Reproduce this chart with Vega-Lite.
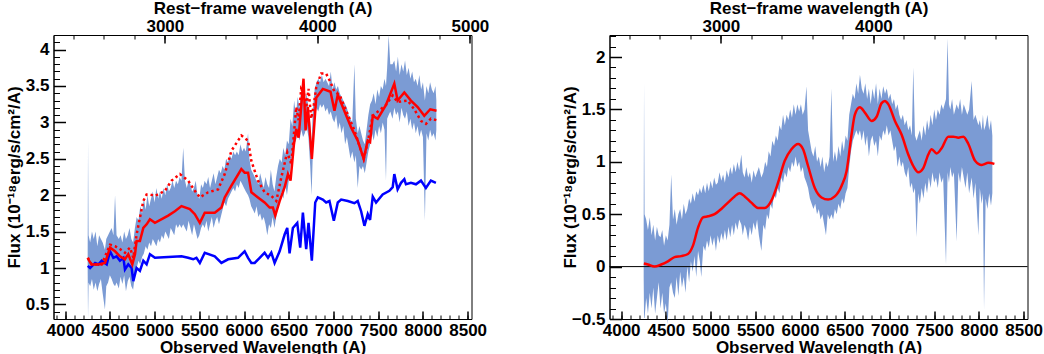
{
"$schema": "https://vega.github.io/schema/vega-lite/v6.json",
"autosize": {"type": "pad"},
"padding": {"left": 3.5, "top": -2, "right": 0, "bottom": 0},
"background": "white",
"bounds": "flush",
"spacing": 138,
"config": {
  "view": {"stroke": "black", "strokeWidth": 1},
  "axis": {"labelFont": "Liberation Sans", "labelFontSize": 17, "labelFontWeight": "bold", "labelColor": "black",
           "titleFont": "Liberation Sans", "titleFontSize": 17, "titleFontWeight": "bold", "titleColor": "black",
           "tickColor": "black", "domainColor": "black", "grid": false, "labelFlush": false, "labelOverlap": false}
},
"datasets": {
"specL": [
{"w":4252,"lo":0.95,"hi":1.25},{"w":4256,"lo":0.30,"hi":2.75},{"w":4262,"lo":0.80,"hi":1.45},{"w":4280,"lo":0.75,"hi":1.35},{"w":4300,"lo":0.85,"hi":1.50},{"w":4320,"lo":0.70,"hi":1.40},{"w":4340,"lo":0.80,"hi":1.50},{"w":4360,"lo":0.68,"hi":1.30},{"w":4380,"lo":0.78,"hi":1.45},{"w":4400,"lo":0.85,"hi":1.40},{"w":4420,"lo":0.65,"hi":1.35},{"w":4445,"lo":0.43,"hi":1.25},{"w":4460,"lo":0.75,"hi":1.40},{"w":4480,"lo":0.80,"hi":1.45},{"w":4500,"lo":0.90,"hi":1.50},{"w":4520,"lo":0.85,"hi":1.55},{"w":4540,"lo":0.78,"hi":1.45},{"w":4558,"lo":0.75,"hi":2.00},{"w":4575,"lo":0.80,"hi":1.45},{"w":4600,"lo":0.72,"hi":1.40},{"w":4620,"lo":0.88,"hi":1.45},{"w":4640,"lo":0.78,"hi":1.35},{"w":4660,"lo":0.90,"hi":1.50},{"w":4680,"lo":0.68,"hi":1.40},{"w":4700,"lo":0.82,"hi":1.45},{"w":4720,"lo":0.88,"hi":1.55},{"w":4740,"lo":0.75,"hi":1.40},{"w":4760,"lo":0.70,"hi":1.35},{"w":4780,"lo":0.90,"hi":1.55},{"w":4800,"lo":1.00,"hi":1.70},{"w":4820,"lo":1.10,"hi":1.65},{"w":4840,"lo":1.05,"hi":1.85},{"w":4860,"lo":1.15,"hi":1.75},{"w":4880,"lo":1.20,"hi":1.95},{"w":4900,"lo":1.30,"hi":1.80},{"w":4920,"lo":1.25,"hi":2.00},{"w":4940,"lo":1.35,"hi":1.85},{"w":4960,"lo":1.30,"hi":1.95},{"w":4980,"lo":1.40,"hi":2.05},{"w":5000,"lo":1.35,"hi":1.90},{"w":5020,"lo":1.30,"hi":2.10},{"w":5040,"lo":1.40,"hi":1.95},{"w":5060,"lo":1.35,"hi":2.05},{"w":5080,"lo":1.45,"hi":1.95},{"w":5100,"lo":1.40,"hi":2.10},{"w":5120,"lo":1.50,"hi":2.00},{"w":5140,"lo":1.45,"hi":2.15},{"w":5160,"lo":1.40,"hi":2.05},{"w":5180,"lo":1.55,"hi":2.10},{"w":5200,"lo":1.50,"hi":2.20},{"w":5220,"lo":1.45,"hi":2.10},{"w":5240,"lo":1.60,"hi":2.20},{"w":5260,"lo":1.55,"hi":2.15},{"w":5280,"lo":1.60,"hi":2.25},{"w":5300,"lo":1.55,"hi":2.20},{"w":5320,"lo":1.60,"hi":2.65},{"w":5340,"lo":1.55,"hi":2.20},{"w":5360,"lo":1.50,"hi":2.10},{"w":5380,"lo":1.65,"hi":2.20},{"w":5400,"lo":1.55,"hi":2.15},{"w":5420,"lo":1.45,"hi":2.05},{"w":5440,"lo":1.60,"hi":2.10},{"w":5460,"lo":1.50,"hi":2.20},{"w":5480,"lo":1.40,"hi":2.00},{"w":5500,"lo":1.45,"hi":1.95},{"w":5520,"lo":1.55,"hi":2.15},{"w":5540,"lo":1.60,"hi":2.10},{"w":5560,"lo":1.55,"hi":2.20},{"w":5580,"lo":1.65,"hi":2.15},{"w":5600,"lo":1.50,"hi":2.25},{"w":5620,"lo":1.60,"hi":2.10},{"w":5640,"lo":1.70,"hi":2.20},{"w":5660,"lo":1.55,"hi":2.30},{"w":5680,"lo":1.65,"hi":2.15},{"w":5700,"lo":1.70,"hi":2.25},{"w":5720,"lo":1.60,"hi":2.35},{"w":5740,"lo":1.70,"hi":2.30},{"w":5760,"lo":1.80,"hi":2.40},{"w":5780,"lo":1.90,"hi":2.35},{"w":5800,"lo":1.85,"hi":2.50},{"w":5820,"lo":1.95,"hi":2.45},{"w":5840,"lo":2.00,"hi":2.55},{"w":5860,"lo":2.05,"hi":2.50},{"w":5880,"lo":2.10,"hi":2.60},{"w":5900,"lo":2.05,"hi":2.55},{"w":5920,"lo":2.15,"hi":2.60},{"w":5940,"lo":2.10,"hi":2.55},{"w":5960,"lo":2.20,"hi":2.70},{"w":5980,"lo":2.15,"hi":2.60},{"w":6000,"lo":2.10,"hi":2.65},{"w":6020,"lo":2.05,"hi":2.60},{"w":6045,"lo":2.00,"hi":2.85},{"w":6060,"lo":1.95,"hi":2.50},{"w":6080,"lo":1.85,"hi":2.35},{"w":6100,"lo":1.80,"hi":2.30},{"w":6120,"lo":1.75,"hi":2.25},{"w":6140,"lo":1.85,"hi":2.20},{"w":6160,"lo":1.70,"hi":2.15},{"w":6180,"lo":1.75,"hi":2.30},{"w":6200,"lo":1.65,"hi":2.20},{"w":6220,"lo":1.70,"hi":2.10},{"w":6240,"lo":1.60,"hi":2.25},{"w":6260,"lo":1.45,"hi":2.15},{"w":6280,"lo":1.60,"hi":2.10},{"w":6300,"lo":1.55,"hi":2.35},{"w":6320,"lo":1.70,"hi":2.15},{"w":6340,"lo":1.55,"hi":2.05},{"w":6360,"lo":1.70,"hi":2.25},{"w":6380,"lo":1.85,"hi":2.40},{"w":6400,"lo":1.95,"hi":2.50},{"w":6420,"lo":2.05,"hi":2.45},{"w":6440,"lo":1.95,"hi":2.65},{"w":6460,"lo":2.15,"hi":2.55},{"w":6480,"lo":2.00,"hi":2.75},{"w":6500,"lo":2.20,"hi":2.70},{"w":6520,"lo":2.40,"hi":3.05},{"w":6540,"lo":2.60,"hi":2.95},{"w":6560,"lo":2.70,"hi":3.30},{"w":6580,"lo":2.75,"hi":3.10},{"w":6600,"lo":2.85,"hi":3.35},{"w":6620,"lo":2.75,"hi":3.20},{"w":6640,"lo":2.90,"hi":3.45},{"w":6660,"lo":2.80,"hi":3.30},{"w":6680,"lo":2.85,"hi":3.25},{"w":6700,"lo":2.95,"hi":3.40},{"w":6720,"lo":2.80,"hi":3.20},{"w":6740,"lo":2.40,"hi":3.00},{"w":6755,"lo":2.00,"hi":2.70},{"w":6770,"lo":2.60,"hi":3.20},{"w":6790,"lo":3.00,"hi":3.45},{"w":6810,"lo":3.20,"hi":3.55},{"w":6830,"lo":3.15,"hi":3.60},{"w":6850,"lo":3.25,"hi":3.55},{"w":6870,"lo":3.20,"hi":3.65},{"w":6890,"lo":3.25,"hi":3.55},{"w":6910,"lo":3.15,"hi":3.60},{"w":6930,"lo":3.20,"hi":3.55},{"w":6950,"lo":3.10,"hi":3.50},{"w":6970,"lo":3.15,"hi":3.70},{"w":6990,"lo":3.05,"hi":3.45},{"w":7010,"lo":3.00,"hi":3.55},{"w":7030,"lo":3.10,"hi":3.45},{"w":7050,"lo":2.90,"hi":3.50},{"w":7070,"lo":3.00,"hi":3.40},{"w":7090,"lo":2.85,"hi":3.35},{"w":7110,"lo":2.95,"hi":3.30},{"w":7130,"lo":2.70,"hi":3.25},{"w":7150,"lo":2.80,"hi":3.20},{"w":7170,"lo":2.65,"hi":3.10},{"w":7190,"lo":2.50,"hi":3.05},{"w":7210,"lo":2.60,"hi":3.00},{"w":7234,"lo":2.45,"hi":3.80},{"w":7250,"lo":2.55,"hi":3.05},{"w":7271,"lo":2.10,"hi":2.85},{"w":7290,"lo":2.40,"hi":2.95},{"w":7310,"lo":2.35,"hi":2.85},{"w":7330,"lo":2.40,"hi":2.75},{"w":7350,"lo":2.30,"hi":2.70},{"w":7370,"lo":2.45,"hi":2.90},{"w":7390,"lo":2.60,"hi":3.10},{"w":7410,"lo":2.70,"hi":3.25},{"w":7430,"lo":2.85,"hi":3.30},{"w":7450,"lo":2.75,"hi":3.40},{"w":7470,"lo":2.90,"hi":3.25},{"w":7490,"lo":2.80,"hi":3.45},{"w":7510,"lo":2.95,"hi":3.35},{"w":7530,"lo":2.85,"hi":3.50},{"w":7550,"lo":3.00,"hi":3.45},{"w":7570,"lo":2.90,"hi":3.60},{"w":7587,"lo":2.20,"hi":3.50},{"w":7600,"lo":3.05,"hi":3.75},{"w":7617,"lo":3.10,"hi":4.20},{"w":7635,"lo":3.15,"hi":3.80},{"w":7660,"lo":3.05,"hi":3.80},{"w":7680,"lo":3.20,"hi":3.85},{"w":7700,"lo":3.10,"hi":3.70},{"w":7720,"lo":3.15,"hi":3.90},{"w":7740,"lo":3.00,"hi":3.65},{"w":7760,"lo":3.20,"hi":3.80},{"w":7780,"lo":3.10,"hi":3.70},{"w":7800,"lo":3.05,"hi":3.85},{"w":7820,"lo":3.15,"hi":3.65},{"w":7840,"lo":2.95,"hi":3.75},{"w":7860,"lo":3.05,"hi":3.60},{"w":7880,"lo":2.90,"hi":3.70},{"w":7900,"lo":3.00,"hi":3.55},{"w":7920,"lo":2.85,"hi":3.60},{"w":7940,"lo":2.95,"hi":3.50},{"w":7960,"lo":2.80,"hi":3.65},{"w":7980,"lo":2.90,"hi":3.45},{"w":8000,"lo":2.80,"hi":3.55},{"w":8022,"lo":1.65,"hi":3.30},{"w":8040,"lo":2.85,"hi":3.50},{"w":8060,"lo":2.75,"hi":3.40},{"w":8080,"lo":2.90,"hi":3.55},{"w":8100,"lo":2.80,"hi":3.45},{"w":8120,"lo":2.85,"hi":3.40},{"w":8140,"lo":2.75,"hi":3.50},{"w":8150,"lo":2.90,"hi":3.30}
],
"blueL": [
{"w":4253,"f":1.03},{"w":4279,"f":1.00},{"w":4335,"f":1.07},{"w":4372,"f":1.05},{"w":4409,"f":1.10},{"w":4465,"f":1.05},{"w":4502,"f":1.23},{"w":4539,"f":1.14},{"w":4576,"f":1.16},{"w":4613,"f":1.10},{"w":4651,"f":1.14},{"w":4669,"f":0.98},{"w":4706,"f":1.05},{"w":4743,"f":1.00},{"w":4762,"f":0.82},{"w":4799,"f":1.00},{"w":4836,"f":0.96},{"w":4874,"f":1.10},{"w":4911,"f":1.05},{"w":4948,"f":1.19},{"w":5004,"f":1.14},{"w":5152,"f":1.15},{"w":5301,"f":1.16},{"w":5375,"f":1.14},{"w":5431,"f":1.12},{"w":5468,"f":1.14},{"w":5506,"f":1.07},{"w":5561,"f":1.21},{"w":5673,"f":1.16},{"w":5747,"f":1.07},{"w":5822,"f":1.12},{"w":5933,"f":1.14},{"w":6007,"f":1.23},{"w":6045,"f":1.14},{"w":6082,"f":1.07},{"w":6119,"f":1.07},{"w":6175,"f":1.14},{"w":6230,"f":1.21},{"w":6268,"f":1.14},{"w":6305,"f":1.21},{"w":6342,"f":1.07},{"w":6398,"f":1.23},{"w":6454,"f":1.46},{"w":6483,"f":1.55},{"w":6509,"f":1.20},{"w":6546,"f":1.55},{"w":6595,"f":1.62},{"w":6628,"f":1.28},{"w":6658,"f":1.76},{"w":6695,"f":1.26},{"w":6721,"f":1.62},{"w":6758,"f":1.10},{"w":6796,"f":1.90},{"w":6825,"f":1.97},{"w":6881,"f":1.94},{"w":6918,"f":1.90},{"w":6955,"f":1.92},{"w":7004,"f":1.65},{"w":7048,"f":1.90},{"w":7086,"f":1.94},{"w":7160,"f":1.92},{"w":7234,"f":1.89},{"w":7271,"f":1.92},{"w":7309,"f":1.78},{"w":7346,"f":1.58},{"w":7383,"f":1.74},{"w":7409,"f":1.66},{"w":7439,"f":1.98},{"w":7476,"f":1.90},{"w":7550,"f":2.01},{"w":7625,"f":2.06},{"w":7662,"f":2.11},{"w":7680,"f":2.29},{"w":7717,"f":2.08},{"w":7755,"f":2.17},{"w":7792,"f":2.22},{"w":7810,"f":2.15},{"w":7866,"f":2.17},{"w":7922,"f":2.15},{"w":7978,"f":2.20},{"w":8033,"f":2.10},{"w":8089,"f":2.20},{"w":8145,"f":2.17}
],
"redL": [
{"w":4253,"f":1.14},{"w":4268,"f":1.10},{"w":4297,"f":1.05},{"w":4372,"f":1.05},{"w":4446,"f":1.07},{"w":4502,"f":1.28},{"w":4558,"f":1.23},{"w":4613,"f":1.16},{"w":4669,"f":1.12},{"w":4706,"f":1.19},{"w":4751,"f":1.05},{"w":4781,"f":1.19},{"w":4799,"f":1.37},{"w":4836,"f":1.37},{"w":4874,"f":1.55},{"w":4911,"f":1.60},{"w":4948,"f":1.67},{"w":5004,"f":1.62},{"w":5152,"f":1.72},{"w":5227,"f":1.78},{"w":5301,"f":1.85},{"w":5394,"f":1.81},{"w":5450,"f":1.74},{"w":5506,"f":1.62},{"w":5561,"f":1.76},{"w":5673,"f":1.76},{"w":5747,"f":1.83},{"w":5784,"f":1.97},{"w":5859,"f":2.13},{"w":5970,"f":2.36},{"w":6007,"f":2.31},{"w":6045,"f":2.31},{"w":6082,"f":2.04},{"w":6156,"f":1.97},{"w":6230,"f":1.90},{"w":6286,"f":1.83},{"w":6323,"f":1.83},{"w":6349,"f":1.72},{"w":6398,"f":1.92},{"w":6454,"f":2.11},{"w":6491,"f":2.29},{"w":6520,"f":2.20},{"w":6558,"f":2.70},{"w":6584,"f":2.91},{"w":6610,"f":2.79},{"w":6632,"f":3.11},{"w":6665,"f":3.60},{"w":6688,"f":2.89},{"w":6714,"f":3.21},{"w":6758,"f":2.50},{"w":6807,"f":3.34},{"w":6881,"f":3.46},{"w":6967,"f":3.42},{"w":7011,"f":3.16},{"w":7048,"f":3.38},{"w":7197,"f":2.93},{"w":7271,"f":2.75},{"w":7338,"f":2.50},{"w":7383,"f":2.75},{"w":7409,"f":2.73},{"w":7439,"f":3.09},{"w":7494,"f":3.05},{"w":7587,"f":3.24},{"w":7680,"f":3.53},{"w":7717,"f":3.30},{"w":7792,"f":3.41},{"w":7866,"f":3.30},{"w":7941,"f":3.21},{"w":8015,"f":3.09},{"w":8082,"f":3.18},{"w":8152,"f":3.16}
],
"dotL": [
{"w":4253,"f":1.14},{"w":4297,"f":1.05},{"w":4409,"f":1.05},{"w":4502,"f":1.32},{"w":4558,"f":1.30},{"w":4613,"f":1.26},{"w":4669,"f":1.21},{"w":4725,"f":1.28},{"w":4762,"f":1.14},{"w":4799,"f":1.46},{"w":4836,"f":1.69},{"w":4874,"f":1.92},{"w":4911,"f":2.01},{"w":4948,"f":2.01},{"w":5004,"f":1.99},{"w":5115,"f":2.06},{"w":5190,"f":2.20},{"w":5283,"f":2.29},{"w":5375,"f":2.20},{"w":5450,"f":2.06},{"w":5506,"f":1.97},{"w":5599,"f":2.04},{"w":5710,"f":2.08},{"w":5784,"f":2.29},{"w":5859,"f":2.61},{"w":5970,"f":2.82},{"w":6045,"f":2.75},{"w":6082,"f":2.47},{"w":6156,"f":2.20},{"w":6230,"f":2.04},{"w":6305,"f":1.99},{"w":6361,"f":1.92},{"w":6416,"f":2.24},{"w":6483,"f":2.59},{"w":6528,"f":2.43},{"w":6558,"f":2.84},{"w":6584,"f":3.21},{"w":6610,"f":3.03},{"w":6639,"f":3.46},{"w":6669,"f":3.40},{"w":6695,"f":3.20},{"w":6721,"f":3.46},{"w":6751,"f":3.05},{"w":6781,"f":3.25},{"w":6807,"f":3.48},{"w":6862,"f":3.67},{"w":6918,"f":3.67},{"w":6967,"f":3.55},{"w":7011,"f":3.42},{"w":7067,"f":3.38},{"w":7160,"f":3.11},{"w":7234,"f":2.89},{"w":7338,"f":2.50},{"w":7383,"f":2.73},{"w":7439,"f":3.09},{"w":7587,"f":3.24},{"w":7662,"f":3.37},{"w":7717,"f":3.28},{"w":7829,"f":3.30},{"w":7903,"f":3.18},{"w":7978,"f":3.02},{"w":8033,"f":2.98},{"w":8089,"f":3.05},{"w":8152,"f":3.03}
],
"specR": [
{"w":4252,"lo":-0.10,"hi":0.40},{"w":4256,"lo":-0.49,"hi":1.75},{"w":4262,"lo":-0.49,"hi":0.50},{"w":4280,"lo":-0.30,"hi":0.45},{"w":4300,"lo":-0.45,"hi":0.35},{"w":4320,"lo":-0.25,"hi":0.47},{"w":4340,"lo":-0.40,"hi":0.30},{"w":4360,"lo":-0.20,"hi":0.40},{"w":4380,"lo":-0.45,"hi":0.25},{"w":4400,"lo":-0.30,"hi":0.38},{"w":4420,"lo":-0.15,"hi":0.30},{"w":4440,"lo":-0.40,"hi":0.28},{"w":4460,"lo":-0.25,"hi":0.35},{"w":4480,"lo":-0.45,"hi":0.20},{"w":4500,"lo":-0.35,"hi":0.30},{"w":4520,"lo":-0.55,"hi":0.25},{"w":4540,"lo":-0.20,"hi":0.40},{"w":4560,"lo":-0.15,"hi":0.88},{"w":4580,"lo":-0.25,"hi":0.45},{"w":4600,"lo":-0.30,"hi":0.55},{"w":4620,"lo":-0.10,"hi":0.40},{"w":4640,"lo":-0.28,"hi":0.50},{"w":4660,"lo":-0.05,"hi":0.55},{"w":4680,"lo":-0.20,"hi":0.45},{"w":4700,"lo":-0.10,"hi":0.60},{"w":4720,"lo":-0.25,"hi":0.50},{"w":4740,"lo":0.00,"hi":0.55},{"w":4760,"lo":-0.15,"hi":0.65},{"w":4780,"lo":0.05,"hi":0.60},{"w":4800,"lo":-0.05,"hi":0.70},{"w":4820,"lo":0.10,"hi":0.62},{"w":4840,"lo":-0.10,"hi":0.72},{"w":4860,"lo":0.15,"hi":0.68},{"w":4880,"lo":0.05,"hi":0.75},{"w":4896,"lo":-0.10,"hi":0.70},{"w":4920,"lo":0.20,"hi":0.78},{"w":4940,"lo":0.15,"hi":0.70},{"w":4960,"lo":0.25,"hi":0.80},{"w":4980,"lo":0.18,"hi":0.72},{"w":5000,"lo":0.30,"hi":0.82},{"w":5020,"lo":0.20,"hi":0.75},{"w":5040,"lo":0.28,"hi":0.85},{"w":5060,"lo":0.15,"hi":0.78},{"w":5080,"lo":0.30,"hi":0.80},{"w":5100,"lo":0.22,"hi":0.90},{"w":5120,"lo":0.32,"hi":0.82},{"w":5140,"lo":0.25,"hi":0.88},{"w":5160,"lo":0.35,"hi":0.80},{"w":5180,"lo":0.25,"hi":0.92},{"w":5200,"lo":0.38,"hi":0.85},{"w":5220,"lo":0.28,"hi":0.95},{"w":5240,"lo":0.40,"hi":0.88},{"w":5260,"lo":0.30,"hi":0.98},{"w":5280,"lo":0.42,"hi":0.90},{"w":5300,"lo":0.35,"hi":1.00},{"w":5320,"lo":0.45,"hi":0.92},{"w":5344,"lo":0.40,"hi":1.07},{"w":5360,"lo":0.30,"hi":0.90},{"w":5380,"lo":0.40,"hi":0.85},{"w":5400,"lo":0.35,"hi":0.95},{"w":5420,"lo":0.25,"hi":0.85},{"w":5440,"lo":0.38,"hi":0.90},{"w":5460,"lo":0.30,"hi":0.80},{"w":5480,"lo":0.42,"hi":0.92},{"w":5500,"lo":0.35,"hi":0.85},{"w":5520,"lo":0.45,"hi":0.90},{"w":5540,"lo":0.30,"hi":0.95},{"w":5568,"lo":0.15,"hi":0.85},{"w":5590,"lo":0.40,"hi":0.90},{"w":5610,"lo":0.35,"hi":1.00},{"w":5630,"lo":0.50,"hi":0.95},{"w":5650,"lo":0.45,"hi":1.10},{"w":5670,"lo":0.60,"hi":1.05},{"w":5690,"lo":0.55,"hi":1.20},{"w":5710,"lo":0.70,"hi":1.15},{"w":5730,"lo":0.65,"hi":1.25},{"w":5750,"lo":0.75,"hi":1.20},{"w":5770,"lo":0.70,"hi":1.35},{"w":5790,"lo":0.85,"hi":1.30},{"w":5810,"lo":0.80,"hi":1.45},{"w":5830,"lo":0.90,"hi":1.35},{"w":5850,"lo":0.85,"hi":1.45},{"w":5870,"lo":0.95,"hi":1.40},{"w":5890,"lo":0.90,"hi":1.50},{"w":5910,"lo":1.00,"hi":1.42},{"w":5930,"lo":0.95,"hi":1.55},{"w":5950,"lo":1.05,"hi":1.45},{"w":5970,"lo":0.95,"hi":1.55},{"w":5990,"lo":1.00,"hi":1.48},{"w":6010,"lo":0.90,"hi":1.55},{"w":6030,"lo":0.95,"hi":1.45},{"w":6050,"lo":0.85,"hi":1.50},{"w":6072,"lo":0.80,"hi":1.72},{"w":6090,"lo":0.75,"hi":1.30},{"w":6110,"lo":0.65,"hi":1.20},{"w":6130,"lo":0.60,"hi":1.10},{"w":6150,"lo":0.55,"hi":1.05},{"w":6170,"lo":0.60,"hi":1.15},{"w":6190,"lo":0.50,"hi":1.00},{"w":6210,"lo":0.55,"hi":1.05},{"w":6230,"lo":0.45,"hi":0.95},{"w":6250,"lo":0.50,"hi":1.05},{"w":6270,"lo":0.40,"hi":0.90},{"w":6290,"lo":0.30,"hi":1.00},{"w":6310,"lo":0.50,"hi":0.95},{"w":6330,"lo":0.45,"hi":1.05},{"w":6351,"lo":0.50,"hi":1.70},{"w":6370,"lo":0.45,"hi":1.00},{"w":6390,"lo":0.55,"hi":1.10},{"w":6410,"lo":0.50,"hi":1.00},{"w":6430,"lo":0.60,"hi":1.15},{"w":6450,"lo":0.55,"hi":1.05},{"w":6470,"lo":0.65,"hi":1.20},{"w":6490,"lo":0.60,"hi":1.10},{"w":6510,"lo":0.70,"hi":1.25},{"w":6530,"lo":0.75,"hi":1.20},{"w":6550,"lo":0.95,"hi":1.45},{"w":6570,"lo":1.10,"hi":1.55},{"w":6590,"lo":1.20,"hi":1.65},{"w":6610,"lo":1.25,"hi":1.60},{"w":6630,"lo":1.30,"hi":1.75},{"w":6650,"lo":1.25,"hi":1.65},{"w":6670,"lo":1.30,"hi":1.83},{"w":6690,"lo":1.20,"hi":1.70},{"w":6710,"lo":1.30,"hi":1.65},{"w":6730,"lo":1.15,"hi":1.75},{"w":6750,"lo":1.25,"hi":1.60},{"w":6770,"lo":1.05,"hi":1.70},{"w":6790,"lo":1.20,"hi":1.55},{"w":6810,"lo":1.25,"hi":1.70},{"w":6830,"lo":1.15,"hi":1.60},{"w":6850,"lo":1.20,"hi":1.75},{"w":6870,"lo":1.05,"hi":1.55},{"w":6890,"lo":1.25,"hi":1.70},{"w":6910,"lo":1.20,"hi":1.60},{"w":6930,"lo":1.30,"hi":1.72},{"w":6950,"lo":1.25,"hi":1.65},{"w":6970,"lo":1.35,"hi":1.70},{"w":6990,"lo":1.25,"hi":1.60},{"w":7010,"lo":1.30,"hi":1.65},{"w":7030,"lo":1.20,"hi":1.55},{"w":7050,"lo":1.10,"hi":1.60},{"w":7070,"lo":1.15,"hi":1.50},{"w":7090,"lo":0.95,"hi":1.55},{"w":7110,"lo":1.05,"hi":1.45},{"w":7130,"lo":0.95,"hi":1.40},{"w":7150,"lo":1.00,"hi":1.45},{"w":7170,"lo":0.90,"hi":1.35},{"w":7190,"lo":0.85,"hi":1.40},{"w":7210,"lo":0.95,"hi":1.30},{"w":7230,"lo":0.75,"hi":1.35},{"w":7250,"lo":0.80,"hi":1.25},{"w":7266,"lo":0.70,"hi":1.90},{"w":7285,"lo":0.75,"hi":1.25},{"w":7303,"lo":0.28,"hi":1.20},{"w":7320,"lo":0.70,"hi":1.25},{"w":7340,"lo":0.60,"hi":1.30},{"w":7360,"lo":0.75,"hi":1.20},{"w":7380,"lo":0.65,"hi":1.35},{"w":7400,"lo":0.80,"hi":1.25},{"w":7420,"lo":0.70,"hi":1.40},{"w":7440,"lo":0.85,"hi":1.30},{"w":7460,"lo":0.75,"hi":1.45},{"w":7480,"lo":0.90,"hi":1.35},{"w":7500,"lo":0.80,"hi":1.50},{"w":7520,"lo":0.85,"hi":1.40},{"w":7540,"lo":0.75,"hi":1.50},{"w":7560,"lo":0.90,"hi":1.45},{"w":7580,"lo":0.80,"hi":1.55},{"w":7600,"lo":0.85,"hi":1.50},{"w":7632,"lo":0.02,"hi":1.60},{"w":7650,"lo":0.90,"hi":2.18},{"w":7665,"lo":0.80,"hi":1.55},{"w":7680,"lo":0.95,"hi":1.50},{"w":7700,"lo":0.85,"hi":1.60},{"w":7720,"lo":0.90,"hi":1.45},{"w":7751,"lo":0.24,"hi":1.55},{"w":7770,"lo":0.90,"hi":1.50},{"w":7790,"lo":0.80,"hi":1.60},{"w":7810,"lo":0.95,"hi":1.45},{"w":7830,"lo":0.85,"hi":1.55},{"w":7850,"lo":0.75,"hi":1.50},{"w":7870,"lo":0.90,"hi":1.45},{"w":7890,"lo":0.70,"hi":1.50},{"w":7919,"lo":0.85,"hi":1.77},{"w":7940,"lo":0.65,"hi":1.40},{"w":7960,"lo":0.80,"hi":1.45},{"w":7994,"lo":0.30,"hi":1.35},{"w":8010,"lo":0.75,"hi":1.40},{"w":8030,"lo":0.60,"hi":1.30},{"w":8045,"lo":0.70,"hi":1.45},{"w":8057,"lo":-0.41,"hi":1.30},{"w":8075,"lo":0.65,"hi":1.35},{"w":8095,"lo":0.55,"hi":1.45},{"w":8115,"lo":0.70,"hi":1.30},{"w":8135,"lo":0.58,"hi":1.40},{"w":8150,"lo":0.70,"hi":1.25}
],
"redR": [
{"w":4254,"f":0.03},{"w":4299,"f":0.02},{"w":4373,"f":0.0},{"w":4448,"f":0.02},{"w":4523,"f":0.05},{"w":4597,"f":0.09},{"w":4672,"f":0.10},{"w":4747,"f":0.12},{"w":4803,"f":0.20},{"w":4859,"f":0.37},{"w":4915,"f":0.47},{"w":4971,"f":0.48},{"w":5045,"f":0.50},{"w":5120,"f":0.55},{"w":5194,"f":0.61},{"w":5269,"f":0.67},{"w":5325,"f":0.70},{"w":5381,"f":0.67},{"w":5456,"f":0.61},{"w":5530,"f":0.56},{"w":5605,"f":0.56},{"w":5680,"f":0.63},{"w":5754,"f":0.80},{"w":5829,"f":1.01},{"w":5904,"f":1.12},{"w":5978,"f":1.17},{"w":6034,"f":1.12},{"w":6090,"f":0.96},{"w":6165,"f":0.75},{"w":6240,"f":0.66},{"w":6314,"f":0.64},{"w":6389,"f":0.67},{"w":6464,"f":0.77},{"w":6520,"f":0.91},{"w":6576,"f":1.26},{"w":6613,"f":1.45},{"w":6669,"f":1.52},{"w":6725,"f":1.47},{"w":6800,"f":1.39},{"w":6856,"f":1.43},{"w":6912,"f":1.56},{"w":6949,"f":1.58},{"w":6986,"f":1.55},{"w":7061,"f":1.39},{"w":7135,"f":1.26},{"w":7210,"f":1.07},{"w":7266,"f":0.96},{"w":7322,"f":0.90},{"w":7378,"f":0.94},{"w":7434,"f":1.07},{"w":7472,"f":1.12},{"w":7527,"f":1.08},{"w":7583,"f":1.13},{"w":7658,"f":1.24},{"w":7714,"f":1.24},{"w":7770,"f":1.23},{"w":7826,"f":1.24},{"w":7882,"f":1.17},{"w":7957,"f":1.01},{"w":8031,"f":0.97},{"w":8106,"f":0.99},{"w":8173,"f":0.98}
],
"zero": [{"f": 0}],
"rest": [{"r": 2300}, {"r": 5000}]
},
"hconcat": [
{
 "width": 418, "height": 284,
 "layer": [
  {
   "layer": [
    {"data": {"name": "specL"}, "mark": {"type": "area", "color": "#7b9bd4", "opacity": 1},
     "encoding": {
      "x": {"field": "w", "type": "quantitative", "scale": {"domain": [3870, 8543], "nice": false, "zero": false},
            "axis": {"orient": "bottom", "values": [4000,4500,5000,5500,6000,6500,7000,7500,8000,8500], "format": "d",
                     "tickSize": -8, "tickWidth": 1.5, "labelPadding": 24, "labelBaseline": "alphabetic",
                     "title": "Observed Wavelength (A)", "titleY": 33.5, "titleBaseline": "alphabetic"}},
      "y": {"field": "lo", "type": "quantitative", "scale": {"domain": [0.3, 4.2], "nice": false, "zero": false},
            "axis": {"orient": "left", "values": [0.5,1,1.5,2,2.5,3,3.5,4], "format": "~g",
                     "tickSize": -12, "tickWidth": 1.5, "labelPadding": 16.5,
                     "title": "Flux (10⁻¹⁸erg/s/cm²/A)", "titleX": -34.5, "titleBaseline": "alphabetic"}},
      "y2": {"field": "hi"}}},
    {"data": {"name": "blueL"}, "mark": {"type": "line", "color": "#0000ff", "strokeWidth": 2.5},
     "encoding": {
      "x": {"field": "w", "type": "quantitative",
            "axis": {"orient": "bottom", "labels": false, "domain": false, "title": null, "tickSize": -4, "tickWidth": 1,
                     "values": [3900,4000,4100,4200,4300,4400,4500,4600,4700,4800,4900,5000,5100,5200,5300,5400,5500,5600,5700,5800,5900,6000,6100,6200,6300,6400,6500,6600,6700,6800,6900,7000,7100,7200,7300,7400,7500,7600,7700,7800,7900,8000,8100,8200,8300,8400,8500]}},
      "y": {"field": "f", "type": "quantitative",
            "axis": {"orient": "left", "labels": false, "domain": false, "title": null, "tickSize": -6, "tickWidth": 1,
                     "values": [0.4,0.5,0.6,0.7,0.8,0.9,1,1.1,1.2,1.3,1.4,1.5,1.6,1.7,1.8,1.9,2,2.1,2.2,2.3,2.4,2.5,2.6,2.7,2.8,2.9,3,3.1,3.2,3.3,3.4,3.5,3.6,3.7,3.8,3.9,4,4.1]}}}},
    {"data": {"name": "dotL"}, "mark": {"type": "line", "color": "#ff0000", "strokeWidth": 2.5, "strokeDash": [2.5, 3]},
     "encoding": {"x": {"field": "w", "type": "quantitative", "axis": null}, "y": {"field": "f", "type": "quantitative", "axis": null}}},
    {"data": {"name": "redL"}, "mark": {"type": "line", "color": "#ff0000", "strokeWidth": 2.5},
     "encoding": {"x": {"field": "w", "type": "quantitative", "axis": null}, "y": {"field": "f", "type": "quantitative", "axis": null}}}
   ],
   "resolve": {"axis": {"x": "independent", "y": "independent"}}
  },
  {
   "layer": [
    {"data": {"name": "rest"}, "mark": {"type": "point", "opacity": 0},
     "encoding": {"x": {"field": "r", "type": "quantitative", "scale": {"domain": [2269.8, 5010.6], "nice": false, "zero": false},
       "axis": {"orient": "top", "values": [3000, 4000, 5000], "format": "d", "tickSize": -8, "tickWidth": 1.5,
                "labelPadding": 12, "labelBaseline": "alphabetic",
                "title": "Rest−frame wavelength (A)", "titleY": -21.7, "titleBaseline": "alphabetic"}}}},
    {"data": {"name": "rest"}, "mark": {"type": "point", "opacity": 0},
     "encoding": {"x": {"field": "r", "type": "quantitative",
       "axis": {"orient": "top", "labels": false, "domain": false, "title": null, "tickSize": -4, "tickWidth": 1,
                "values": [2400,2600,2800,3000,3200,3400,3600,3800,4000,4200,4400,4600,4800,5000]}}}}
   ],
   "resolve": {"axis": {"x": "independent"}}
  }
 ],
 "resolve": {"scale": {"x": "independent"}}
},
{
 "width": 418, "height": 284,
 "layer": [
  {
   "layer": [
    {"data": {"name": "specR"}, "mark": {"type": "area", "color": "#7b9bd4", "opacity": 1},
     "encoding": {
      "x": {"field": "w", "type": "quantitative", "scale": {"domain": [3870, 8543], "nice": false, "zero": false},
            "axis": {"orient": "bottom", "values": [4000,4500,5000,5500,6000,6500,7000,7500,8000,8500], "format": "d",
                     "tickSize": -8, "tickWidth": 1.5, "labelPadding": 24, "labelBaseline": "alphabetic",
                     "title": "Observed Wavelength (A)", "titleY": 33.5, "titleBaseline": "alphabetic"}},
      "y": {"field": "lo", "type": "quantitative", "scale": {"domain": [-0.5, 2.21], "nice": false, "zero": false},
            "axis": {"orient": "left", "values": [-0.5,0,0.5,1,1.5,2], "format": "~g",
                     "tickSize": -12, "tickWidth": 1.5, "labelPadding": 16.5,
                     "title": "Flux (10⁻¹⁸erg/s/cm²/A)", "titleX": -34.5, "titleBaseline": "alphabetic"}},
      "y2": {"field": "hi"}}},
    {"data": {"name": "zero"}, "mark": {"type": "rule", "color": "black", "strokeWidth": 1},
     "encoding": {"y": {"field": "f", "type": "quantitative",
            "axis": {"orient": "left", "labels": false, "domain": false, "title": null, "tickSize": -6, "tickWidth": 1,
                     "values": [-0.4,-0.3,-0.2,-0.1,0,0.1,0.2,0.3,0.4,0.5,0.6,0.7,0.8,0.9,1,1.1,1.2,1.3,1.4,1.5,1.6,1.7,1.8,1.9,2,2.1,2.2]}}}},
    {"data": {"name": "redR"}, "mark": {"type": "line", "color": "#ff0000", "strokeWidth": 2.5, "interpolate": "monotone"},
     "encoding": {
      "x": {"field": "w", "type": "quantitative",
            "axis": {"orient": "bottom", "labels": false, "domain": false, "title": null, "tickSize": -4, "tickWidth": 1,
                     "values": [3900,4000,4100,4200,4300,4400,4500,4600,4700,4800,4900,5000,5100,5200,5300,5400,5500,5600,5700,5800,5900,6000,6100,6200,6300,6400,6500,6600,6700,6800,6900,7000,7100,7200,7300,7400,7500,7600,7700,7800,7900,8000,8100,8200,8300,8400,8500]}},
      "y": {"field": "f", "type": "quantitative", "axis": null}}}
   ],
   "resolve": {"axis": {"x": "independent", "y": "independent"}}
  },
  {
   "layer": [
    {"data": {"name": "rest"}, "mark": {"type": "point", "opacity": 0},
     "encoding": {"x": {"field": "r", "type": "quantitative", "scale": {"domain": [2269.8, 5010.6], "nice": false, "zero": false},
       "axis": {"orient": "top", "values": [3000, 4000], "format": "d", "tickSize": -8, "tickWidth": 1.5,
                "labelPadding": 12, "labelBaseline": "alphabetic",
                "title": "Rest−frame wavelength (A)", "titleY": -21.7, "titleBaseline": "alphabetic"}}}},
    {"data": {"name": "rest"}, "mark": {"type": "point", "opacity": 0},
     "encoding": {"x": {"field": "r", "type": "quantitative",
       "axis": {"orient": "top", "labels": false, "domain": false, "title": null, "tickSize": -4, "tickWidth": 1,
                "values": [2400,2600,2800,3000,3200,3400,3600,3800,4000,4200,4400,4600,4800]}}}}
   ],
   "resolve": {"axis": {"x": "independent"}}
  }
 ],
 "resolve": {"scale": {"x": "independent"}}
}
]
}
